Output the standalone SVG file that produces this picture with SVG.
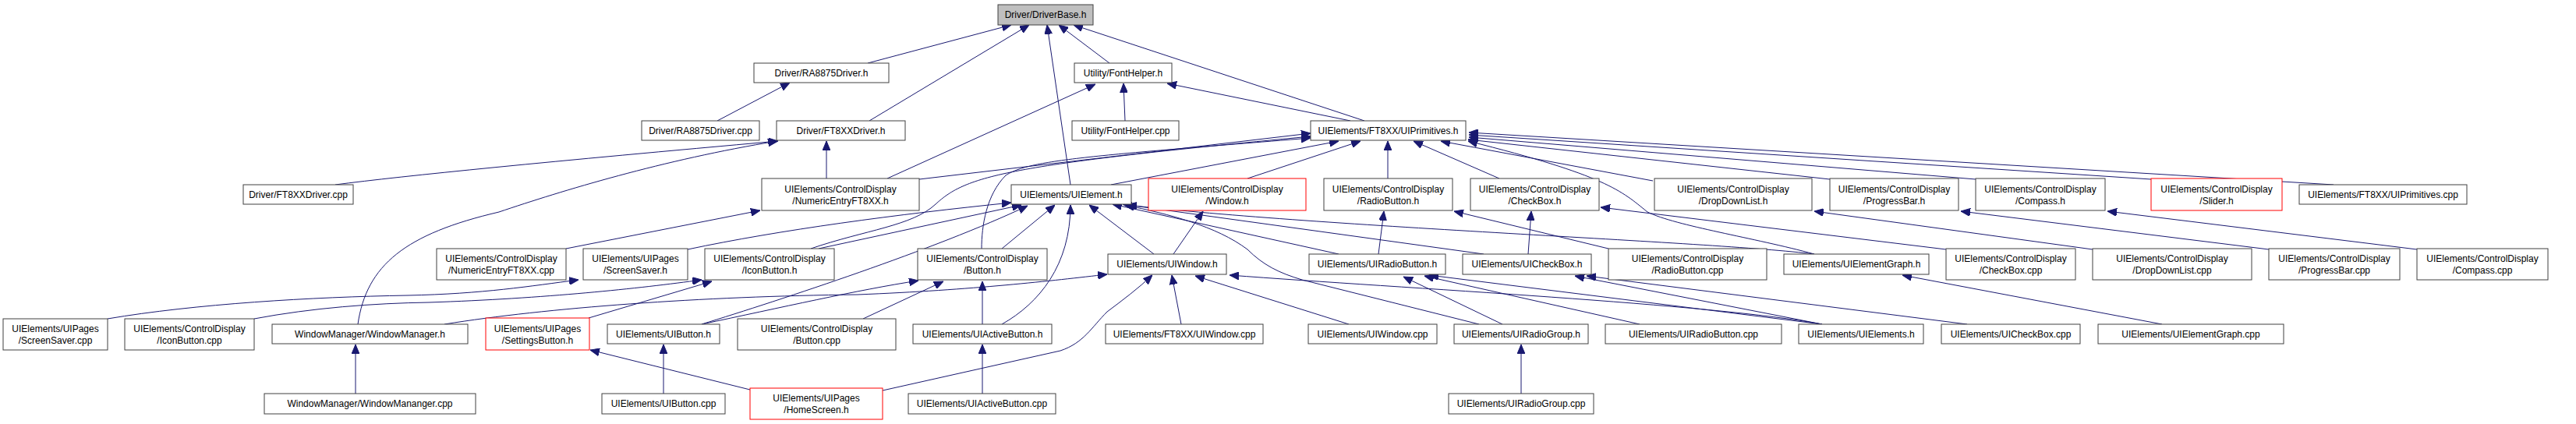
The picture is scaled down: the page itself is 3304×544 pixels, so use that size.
<svg xmlns="http://www.w3.org/2000/svg" width="3304" height="544" viewBox="0 0 3304 544">
<style>
.n rect{fill:#ffffff;stroke:#404040;stroke-width:1}
.n.root rect{fill:#bfbfbf}
.n.red rect{stroke:#ff0000}
.n text{font-family:"Liberation Sans",Arial,sans-serif;font-size:12px;fill:#000000;text-anchor:middle}
#edges path{fill:none;stroke:#191970;stroke-width:1;marker-end:url(#ah)}
</style>
<defs>
<marker id="ah" markerUnits="userSpaceOnUse" markerWidth="12" markerHeight="10" viewBox="0 0 12 10" refX="12" refY="5" orient="auto">
<path d="M0,0 L12,5 L0,10 z" fill="#191970" stroke="#191970" stroke-width="1"/>
</marker>
</defs>
<rect x="0" y="0" width="3304" height="544" fill="#ffffff"/>
<g id="edges">
<path d="M1113,81 L1297,32"/>
<path d="M1115,155 L1320,32"/>
<path d="M1373,237 L1343,32"/>
<path d="M1423,81 L1358,32"/>
<path d="M1750,155 L1377,32"/>
<path d="M920,155 L1013,106"/>
<path d="M430,237 Q560,220 998,181"/>
<path d="M1060,229 L1060,181"/>
<path d="M459,416 C470,340 520,300 640,272 C720,245 850,205 997,181"/>
<path d="M1138,229 L1405,108"/>
<path d="M1443,155 L1441,107"/>
<path d="M1732,155 L1497,107"/>
<path d="M1179,230 L1681,171"/>
<path d="M1425,237 L1717,181"/>
<path d="M1040,319 C1110,295 1170,290 1200,262 C1240,225 1290,212 1681,175"/>
<path d="M1259,319 C1259,290 1265,250 1290,225 C1320,205 1400,200 1681,177"/>
<path d="M1600,229 L1745,181"/>
<path d="M1780,229 L1780,181"/>
<path d="M1923,229 L1813,181"/>
<path d="M2120,232 L1848,181"/>
<path d="M2347,230 L1883,179"/>
<path d="M2534,230 L1884,176"/>
<path d="M2759,230 L1884,173"/>
<path d="M2993,237 L1884,170"/>
<path d="M2327,326 C2250,305 2150,290 2113,272 C2080,245 2060,225 1883,181"/>
<path d="M726,319 L975,270"/>
<path d="M882,320 C1000,295 1150,275 1297,260"/>
<path d="M1050,319 L1310,263"/>
<path d="M1285,319 L1353,263"/>
<path d="M1480,326 L1397,263"/>
<path d="M1717,326 L1427,262"/>
<path d="M1903,326 L1440,262"/>
<path d="M2327,326 C2200,310 1700,292 1446,263"/>
<path d="M900,416 C1000,385 1200,320 1318,264"/>
<path d="M1285,416 C1333,389 1373,340 1373,263"/>
<path d="M1897,416 L1670,359 C1640,350 1620,340 1600,320 C1560,290 1500,275 1443,263"/>
<path d="M1505,326 L1543,271"/>
<path d="M1768,326 L1775,271"/>
<path d="M1960,326 L1964,271"/>
<path d="M2063,319 L1865,271"/>
<path d="M2496,320 L2053,266"/>
<path d="M2684,320 L2327,271"/>
<path d="M2910,320 L2515,271"/>
<path d="M3100,320 L2703,271"/>
<path d="M138,409 C250,390 400,381 523,379 C620,377 680,367 742,359"/>
<path d="M326,409 C400,395 480,389 550,388 C700,383 820,370 900,359"/>
<path d="M755,408 L913,361"/>
<path d="M570,416 C700,395 900,380 1100,378 C1250,372 1350,360 1420,352"/>
<path d="M900,416 C1000,395 1100,372 1178,360"/>
<path d="M1107,409 L1210,361"/>
<path d="M1260,416 L1260,361"/>
<path d="M851,505 L851,442"/>
<path d="M962,500 L757,449"/>
<path d="M1132,501 L1360,450 C1390,440 1400,420 1420,400 C1440,385 1460,370 1478,353"/>
<path d="M456,505 L456,442"/>
<path d="M1260,505 L1260,442"/>
<path d="M1515,416 L1503,353"/>
<path d="M1730,416 L1533,354"/>
<path d="M1927,416 L1800,355"/>
<path d="M2103,416 L1827,354"/>
<path d="M2337,416 L1833,353"/>
<path d="M2337,416 L2020,354"/>
<path d="M2337,416 C2200,390 1800,370 1577,353"/>
<path d="M2523,416 L2035,354"/>
<path d="M2773,416 L2440,353"/>
<path d="M1951,505 L1951,442"/>
</g>
<g id="n0" class="n root"><rect x="1280" y="6" width="122" height="26"/><text x="1341" y="23">Driver/DriverBase.h</text></g>
<g id="n1" class="n"><rect x="967" y="81" width="173" height="25"/><text x="1053.5" y="98">Driver/RA8875Driver.h</text></g>
<g id="n2" class="n"><rect x="1378" y="81" width="125" height="25"/><text x="1440.5" y="98">Utility/FontHelper.h</text></g>
<g id="n3" class="n"><rect x="823" y="155" width="151" height="25"/><text x="898.5" y="172">Driver/RA8875Driver.cpp</text></g>
<g id="n4" class="n"><rect x="996" y="155" width="165" height="25"/><text x="1078.5" y="172">Driver/FT8XXDriver.h</text></g>
<g id="n5" class="n"><rect x="1375" y="155" width="137" height="25"/><text x="1443.5" y="172">Utility/FontHelper.cpp</text></g>
<g id="n6" class="n"><rect x="1681" y="155" width="199" height="25"/><text x="1780.5" y="172">UIElements/FT8XX/UIPrimitives.h</text></g>
<g id="n7" class="n"><rect x="312" y="237" width="141" height="25"/><text x="382.5" y="254">Driver/FT8XXDriver.cpp</text></g>
<g id="n8" class="n"><rect x="977" y="229" width="202" height="41"/><text x="1078" y="247">UIElements/ControlDisplay</text><text x="1078" y="262">/NumericEntryFT8XX.h</text></g>
<g id="n9" class="n"><rect x="1297" y="237" width="154" height="25"/><text x="1374" y="254">UIElements/UIElement.h</text></g>
<g id="n10" class="n red"><rect x="1473" y="229" width="202" height="41"/><text x="1574" y="247">UIElements/ControlDisplay</text><text x="1574" y="262">/Window.h</text></g>
<g id="n11" class="n"><rect x="1698" y="229" width="165" height="41"/><text x="1780.5" y="247">UIElements/ControlDisplay</text><text x="1780.5" y="262">/RadioButton.h</text></g>
<g id="n12" class="n"><rect x="1886" y="229" width="165" height="41"/><text x="1968.5" y="247">UIElements/ControlDisplay</text><text x="1968.5" y="262">/CheckBox.h</text></g>
<g id="n13" class="n"><rect x="2122" y="229" width="202" height="41"/><text x="2223" y="247">UIElements/ControlDisplay</text><text x="2223" y="262">/DropDownList.h</text></g>
<g id="n14" class="n"><rect x="2347" y="229" width="165" height="41"/><text x="2429.5" y="247">UIElements/ControlDisplay</text><text x="2429.5" y="262">/ProgressBar.h</text></g>
<g id="n15" class="n"><rect x="2534" y="229" width="166" height="41"/><text x="2617" y="247">UIElements/ControlDisplay</text><text x="2617" y="262">/Compass.h</text></g>
<g id="n16" class="n red"><rect x="2759" y="229" width="168" height="41"/><text x="2843" y="247">UIElements/ControlDisplay</text><text x="2843" y="262">/Slider.h</text></g>
<g id="n17" class="n"><rect x="2949" y="237" width="215" height="25"/><text x="3056.5" y="254">UIElements/FT8XX/UIPrimitives.cpp</text></g>
<g id="n18" class="n"><rect x="560" y="319" width="166" height="40"/><text x="643" y="336">UIElements/ControlDisplay</text><text x="643" y="351">/NumericEntryFT8XX.cpp</text></g>
<g id="n19" class="n"><rect x="748" y="319" width="134" height="40"/><text x="815" y="336">UIElements/UIPages</text><text x="815" y="351">/ScreenSaver.h</text></g>
<g id="n20" class="n"><rect x="904" y="319" width="166" height="40"/><text x="987" y="336">UIElements/ControlDisplay</text><text x="987" y="351">/IconButton.h</text></g>
<g id="n21" class="n"><rect x="1177" y="319" width="166" height="40"/><text x="1260" y="336">UIElements/ControlDisplay</text><text x="1260" y="351">/Button.h</text></g>
<g id="n22" class="n"><rect x="1421" y="326" width="152" height="26"/><text x="1497" y="343">UIElements/UIWindow.h</text></g>
<g id="n23" class="n"><rect x="1679" y="326" width="175" height="26"/><text x="1766.5" y="343">UIElements/UIRadioButton.h</text></g>
<g id="n24" class="n"><rect x="1876" y="326" width="165" height="26"/><text x="1958.5" y="343">UIElements/UICheckBox.h</text></g>
<g id="n25" class="n"><rect x="2063" y="319" width="203" height="40"/><text x="2164.5" y="336">UIElements/ControlDisplay</text><text x="2164.5" y="351">/RadioButton.cpp</text></g>
<g id="n26" class="n"><rect x="2288" y="326" width="186" height="26"/><text x="2381" y="343">UIElements/UIElementGraph.h</text></g>
<g id="n27" class="n"><rect x="2496" y="319" width="166" height="40"/><text x="2579" y="336">UIElements/ControlDisplay</text><text x="2579" y="351">/CheckBox.cpp</text></g>
<g id="n28" class="n"><rect x="2684" y="319" width="204" height="40"/><text x="2786" y="336">UIElements/ControlDisplay</text><text x="2786" y="351">/DropDownList.cpp</text></g>
<g id="n29" class="n"><rect x="2910" y="319" width="168" height="40"/><text x="2994" y="336">UIElements/ControlDisplay</text><text x="2994" y="351">/ProgressBar.cpp</text></g>
<g id="n30" class="n"><rect x="3100" y="319" width="168" height="40"/><text x="3184" y="336">UIElements/ControlDisplay</text><text x="3184" y="351">/Compass.cpp</text></g>
<g id="n31" class="n"><rect x="4" y="409" width="134" height="40"/><text x="71" y="426">UIElements/UIPages</text><text x="71" y="441">/ScreenSaver.cpp</text></g>
<g id="n32" class="n"><rect x="160" y="409" width="166" height="40"/><text x="243" y="426">UIElements/ControlDisplay</text><text x="243" y="441">/IconButton.cpp</text></g>
<g id="n33" class="n"><rect x="349" y="416" width="251" height="25"/><text x="474.5" y="433">WindowManager/WindowManager.h</text></g>
<g id="n34" class="n red"><rect x="623" y="408" width="133" height="41"/><text x="689.5" y="426">UIElements/UIPages</text><text x="689.5" y="441">/SettingsButton.h</text></g>
<g id="n35" class="n"><rect x="779" y="416" width="144" height="25"/><text x="851" y="433">UIElements/UIButton.h</text></g>
<g id="n36" class="n"><rect x="946" y="409" width="203" height="40"/><text x="1047.5" y="426">UIElements/ControlDisplay</text><text x="1047.5" y="441">/Button.cpp</text></g>
<g id="n37" class="n"><rect x="1171" y="416" width="178" height="25"/><text x="1260" y="433">UIElements/UIActiveButton.h</text></g>
<g id="n38" class="n"><rect x="1418" y="416" width="202" height="25"/><text x="1519" y="433">UIElements/FT8XX/UIWindow.cpp</text></g>
<g id="n39" class="n"><rect x="1678" y="416" width="165" height="25"/><text x="1760.5" y="433">UIElements/UIWindow.cpp</text></g>
<g id="n40" class="n"><rect x="1865" y="416" width="172" height="25"/><text x="1951" y="433">UIElements/UIRadioGroup.h</text></g>
<g id="n41" class="n"><rect x="2059" y="416" width="226" height="25"/><text x="2172" y="433">UIElements/UIRadioButton.cpp</text></g>
<g id="n42" class="n"><rect x="2307" y="416" width="160" height="25"/><text x="2387" y="433">UIElements/UIElements.h</text></g>
<g id="n43" class="n"><rect x="2490" y="416" width="178" height="25"/><text x="2579" y="433">UIElements/UICheckBox.cpp</text></g>
<g id="n44" class="n"><rect x="2691" y="416" width="238" height="25"/><text x="2810" y="433">UIElements/UIElementGraph.cpp</text></g>
<g id="n45" class="n"><rect x="339" y="505" width="271" height="26"/><text x="474.5" y="522">WindowManager/WindowMananger.cpp</text></g>
<g id="n46" class="n"><rect x="772" y="505" width="158" height="26"/><text x="851" y="522">UIElements/UIButton.cpp</text></g>
<g id="n47" class="n red"><rect x="962" y="498" width="170" height="40"/><text x="1047" y="515">UIElements/UIPages</text><text x="1047" y="530">/HomeScreen.h</text></g>
<g id="n48" class="n"><rect x="1165" y="505" width="189" height="26"/><text x="1259.5" y="522">UIElements/UIActiveButton.cpp</text></g>
<g id="n49" class="n"><rect x="1858" y="505" width="186" height="26"/><text x="1951" y="522">UIElements/UIRadioGroup.cpp</text></g>
</svg>
